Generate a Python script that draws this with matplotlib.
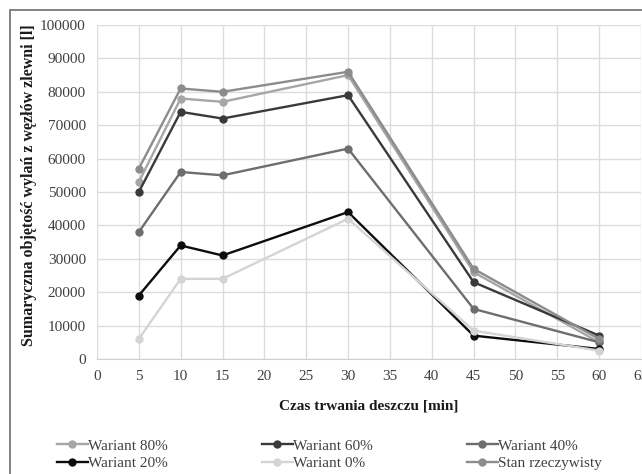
import matplotlib.pyplot as plt
from matplotlib.patches import Rectangle

plt.rcParams['font.family'] = ['Liberation Serif', 'DejaVu Serif']

# Rain duration [min] and summed outflow volume [l] per scenario
czas = [5, 10, 15, 30, 45, 60]
wariant_80 = [53000, 78000, 77000, 85000, 26000, 5000]
wariant_60 = [50000, 74000, 72000, 79000, 23000, 7000]
wariant_40 = [38000, 56000, 55000, 63000, 15000, 5000]
wariant_20 = [19000, 34000, 31000, 44000, 7000, 3000]
wariant_0 = [6000, 24000, 24000, 42000, 8500, 2500]
stan = [57000, 81000, 80000, 86000, 27000, 6000]

serie = [
    ('Wariant 80%', wariant_80, '#a6a6a6'),
    ('Wariant 60%', wariant_60, '#3a3a3a'),
    ('Wariant 40%', wariant_40, '#6e6e6e'),
    ('Wariant 20%', wariant_20, '#0d0d0d'),
    ('Wariant 0%', wariant_0, '#d4d4d4'),
    ('Stan rzeczywisty', stan, '#8c8c8c'),
]

fig = plt.figure(figsize=(6.42, 4.74), dpi=100)
ax = fig.add_axes([0.151, 0.2426, 0.8475, 0.7046])

linie = {}
for nazwa, wart, kolor in serie:
    l, = ax.plot(czas, wart, color=kolor, lw=1.7, marker='o', markersize=5,
                 label=nazwa, zorder=3)
    linie[nazwa] = l

ax.set_xlim(0, 65)
ax.set_ylim(0, 100000)
ax.set_xticks(range(0, 70, 5))
ax.set_yticks(range(0, 100001, 10000))
ax.grid(True, color='#dcdcdc', lw=1)
ax.set_axisbelow(True)
for s in ['left', 'right', 'top']:
    ax.spines[s].set_visible(False)
ax.spines['bottom'].set_color('#d0d0d0')
ax.tick_params(length=0, labelsize=11, colors='#404040', pad=8)

ax.set_xlabel('Czas trwania deszczu [min]', fontsize=11, fontweight='bold',
              color='#1a1a1a', labelpad=12)
ax.set_ylabel('Sumaryczna objętość wylań z węzłów zlewni [l]', fontsize=11.5,
              fontweight='bold', color='#1a1a1a')
ax.yaxis.set_label_coords(-0.111, 0.52)

# legend fills column-wise, so reorder to get rows 80/60/40 and 20/0/stan
kolejnosc = ['Wariant 80%', 'Wariant 20%', 'Wariant 60%', 'Wariant 0%',
             'Wariant 40%', 'Stan rzeczywisty']
fig.legend([linie[k] for k in kolejnosc], kolejnosc, ncol=3,
           loc='upper left', bbox_to_anchor=(0.077, 0.09), frameon=False,
           fontsize=11, handlelength=2.0, handletextpad=0.0,
           columnspacing=6.2, labelspacing=0.25, borderpad=0,
           labelcolor='#404040')

# outer frame around the chart
fig.patches.append(Rectangle((0.0156, -0.1), 1.1, 1.079, transform=fig.transFigure,
                             fill=False, edgecolor='#7a7a7a', lw=1.3))

fig.savefig('out.png', dpi=100)
